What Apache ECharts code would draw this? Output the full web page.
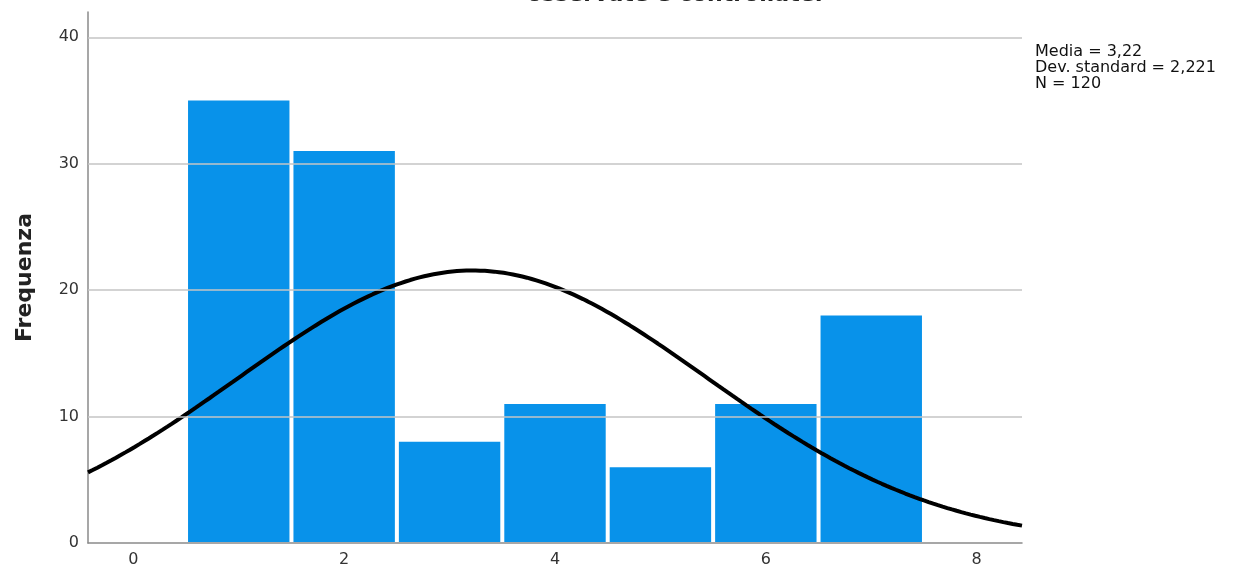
<!DOCTYPE html>
<html>
<head>
<meta charset="utf-8">
<script src="https://cdn.jsdelivr.net/npm/echarts@6/dist/echarts.min.js"></script>
<style>
  html, body { margin: 0; padding: 0; background: #fff; }
  #chart { width: 1233px; height: 570px; }
</style>
</head>
<body>
<div id="chart"></div>
<script>
// Histogram bins (centre value) and their frequencies
const binCenters = [1, 2, 3, 4, 5, 6, 7];
const frequencies = [35, 31, 8, 11, 6, 11, 18];
const xTicks = [0, 2, 4, 6, 8];
const yTicks = [0, 10, 20, 30, 40];

// Summary statistics printed beside the plot
const mean = 3.22;
const stdDev = 2.221;
const nTotal = 120;
const binWidth = 1;

const xMin = -0.43, xMax = 8.43;

// Fitted normal curve scaled to counts per bin
const curve = [];
for (let i = 0; i <= 200; i++) {
  const x = xMin + (xMax - xMin) * i / 200;
  const z = (x - mean) / stdDev;
  const y = nTotal * binWidth * Math.exp(-0.5 * z * z) / (stdDev * Math.sqrt(2 * Math.PI));
  curve.push([x, y]);
}

const barData = binCenters.map((c, i) => [c - binWidth / 2, c + binWidth / 2, frequencies[i]]);

const chart = echarts.init(document.getElementById('chart'));
const labelFont = 'DejaVu Sans';
chart.setOption({
  animation: false,
  grid: { left: 88, right: 211, top: 12, bottom: 27 },
  xAxis: {
    type: 'value',
    min: xMin,
    max: xMax,
    axisLine: { show: true, onZero: false, lineStyle: { color: '#8a8a8a', width: 1.5 } },
    axisTick: { show: false },
    splitLine: { show: false },
    axisLabel: {
      fontFamily: labelFont, fontSize: 16, color: '#333', margin: 9,
      customValues: xTicks,
      formatter: v => String(v)
    }
  },
  yAxis: {
    type: 'value',
    min: 0,
    max: 42,
    name: 'Frequenza',
    nameLocation: 'middle',
    nameGap: 52,
    nameTextStyle: { fontFamily: labelFont, fontSize: 22, fontWeight: 'bold', color: '#222' },
    axisLine: { show: true, onZero: false, lineStyle: { color: '#8a8a8a', width: 1.5 } },
    axisTick: { show: false },
    axisLabel: {
      fontFamily: labelFont, fontSize: 16, color: '#333', margin: 9,
      customValues: yTicks
    },
    splitLine: { show: false }
  },
  graphic: [
    {
      type: 'text',
      left: 1035,
      top: 44,
      style: {
        text: 'Media = ' + String(mean).replace('.', ',') + '\nDev. standard = ' + String(stdDev).replace('.', ',') + '\nN = ' + nTotal,
        font: '16px "DejaVu Sans"',
        lineHeight: 16,
        fill: '#111'
      }
    },
    {
      type: 'text',
      x: 527,
      y: -16,
      style: {
        text: 'osservate e controllate.',
        font: 'bold 22px "DejaVu Sans"',
        fill: '#222'
      }
    }
  ],
  series: [
    {
      // horizontal reference lines at each y tick
      type: 'line',
      data: [],
      markLine: {
        silent: true,
        symbol: 'none',
        label: { show: false },
        lineStyle: { color: '#c4c4c4', type: 'solid', width: 1.5 },
        data: yTicks.filter(v => v > 0).map(v => ({ yAxis: v }))
      }
    },
    {
      type: 'custom',
      data: barData,
      renderItem: (params, api) => {
        const p0 = api.coord([api.value(0), api.value(2)]);
        const p1 = api.coord([api.value(1), 0]);
        return {
          type: 'rect',
          shape: { x: p0[0] + 2, y: p0[1], width: p1[0] - p0[0] - 4, height: p1[1] - p0[1] - 1 },
          style: { fill: '#0892ea' }
        };
      },
      z: 2
    },
    {
      type: 'line',
      data: curve,
      showSymbol: false,
      smooth: false,
      lineStyle: { color: '#000', width: 4 },
      z: 3
    }
  ]
});
</script>
</body>
</html>
